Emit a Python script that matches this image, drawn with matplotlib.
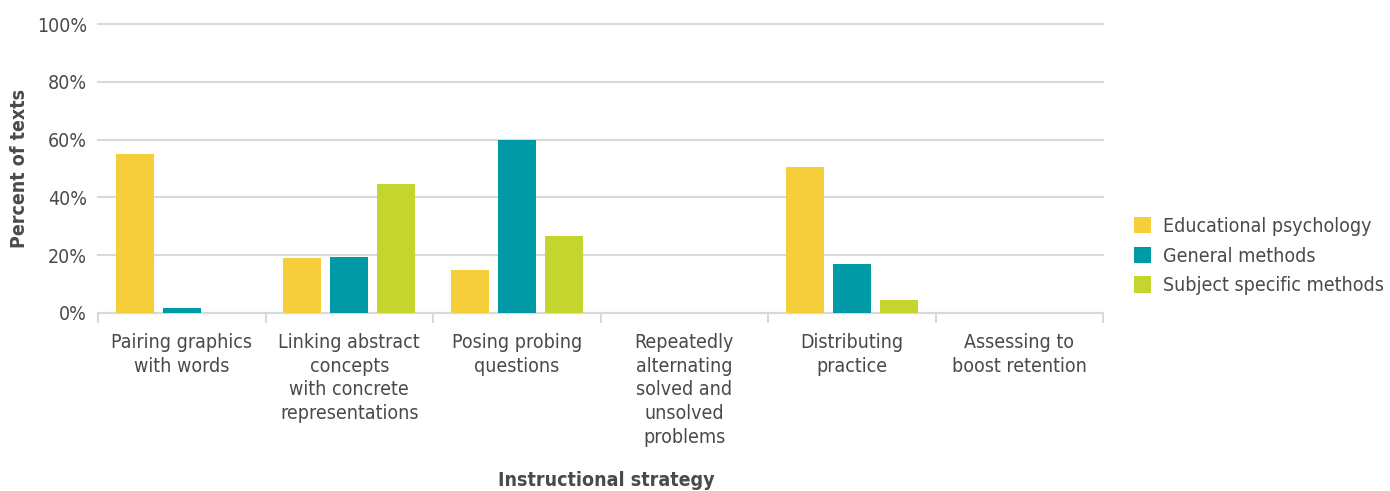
import matplotlib
matplotlib.use("Agg")
import matplotlib.pyplot as plt
import numpy as np
from matplotlib.patches import Patch

categories = [
    "Pairing graphics\nwith words",
    "Linking abstract\nconcepts\nwith concrete\nrepresentations",
    "Posing probing\nquestions",
    "Repeatedly\nalternating\nsolved and\nunsolved\nproblems",
    "Distributing\npractice",
    "Assessing to\nboost retention",
]
series_names = ["Educational psychology", "General methods", "Subject specific methods"]
edu_psych = [55.0, 19.0, 14.9, 0, 50.5, 0]
gen_methods = [1.7, 19.4, 59.9, 0, 17.0, 0]
subj_methods = [0, 44.6, 26.6, 0, 4.5, 0]
yticks = [0, 20, 40, 60, 80, 100]
ytick_labels = ["0%", "20%", "40%", "60%", "80%", "100%"]
colors = ["#F5CE3B", "#0099A6", "#C4D62E"]

plt.rcParams['font.family'] = ['DejaVu Sans']
plt.rcParams['font.stretch'] = 'condensed'
text_color = "#4a4a4a"

fig = plt.figure(figsize=(13.9, 4.91), dpi=100)
ax = fig.add_axes([98/1390, 1-313/491, (1103-98)/1390, (313-24)/491])

x = np.arange(len(categories))
step = 0.28
width = 0.227
for i, (vals, c, name) in enumerate(zip([edu_psych, gen_methods, subj_methods], colors, series_names)):
    ax.bar(x + (i - 1) * step, vals, width=width, color=c, label=name, zorder=3)

fs = 14
ax.set_xlim(-0.5, len(categories) - 0.5)
ax.set_ylim(0, 100)
ax.set_yticks(yticks)
ax.set_yticklabels(ytick_labels, fontsize=fs, color=text_color)
ax.yaxis.grid(True, color="#d9d9d9", linewidth=1.5, zorder=0)
for gl in ax.get_ygridlines():
    gl.set_clip_on(False)
ax.tick_params(axis='y', length=0, pad=8)

ax.set_xticks(x)
ax.set_xticklabels(categories, fontsize=fs, color=text_color, linespacing=1.31)
ax.tick_params(axis='x', length=0, pad=14.5)
# boundary ticks
ax.set_xticks(np.arange(-0.5, len(categories)), minor=True)
ax.tick_params(axis='x', which='minor', length=7, width=1.5, color="#d9d9d9")

for s in ["top", "right", "left"]:
    ax.spines[s].set_visible(False)
ax.spines["bottom"].set_color("#d9d9d9")
ax.spines["bottom"].set_linewidth(1.5)

fig.text(20/1390, 1-168/491, "Percent of texts", rotation=90, fontsize=fs, fontweight='bold',
         color=text_color, ha='center', va='center')
fig.text(606/1390, 1-480/491, "Instructional strategy", fontsize=fs, fontweight='bold',
         color=text_color, ha='center', va='center')

handles = [Patch(facecolor=c, edgecolor='none') for c in colors]
leg = fig.legend(handles, series_names, loc='center left', bbox_to_anchor=(1116/1390, 1-256/491),
                 frameon=False, fontsize=fs, handlelength=0.9, handleheight=0.9,
                 handletextpad=0.6, labelspacing=0.55, labelcolor=text_color)

fig.savefig("out.png", dpi=100)
